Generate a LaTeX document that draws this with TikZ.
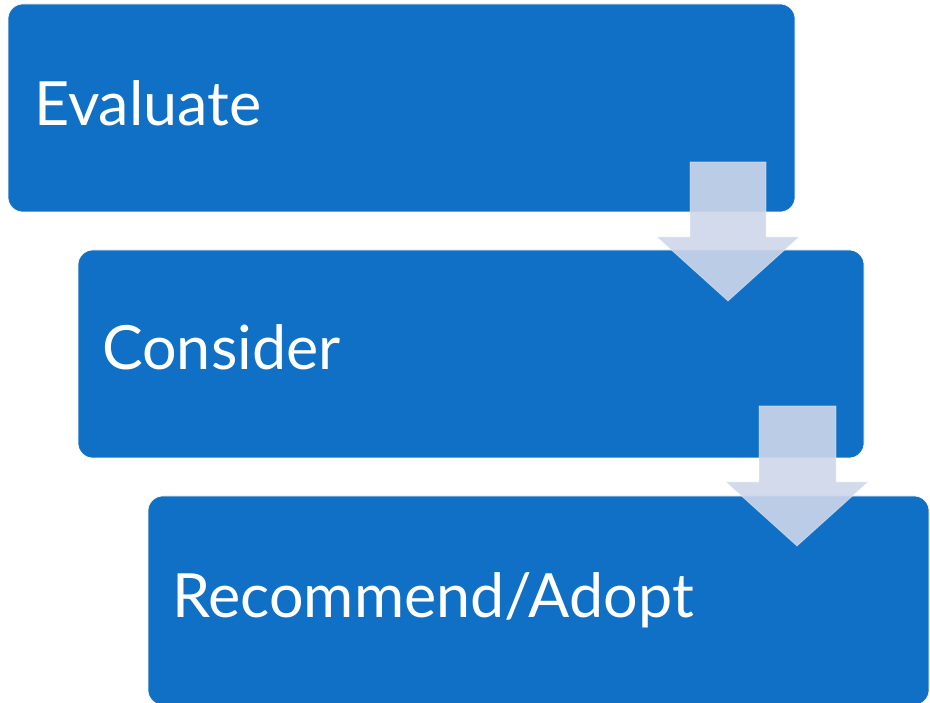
\documentclass[tikz,border=0pt]{standalone}
\usepackage{fontspec}
\setmainfont{Lato}
\definecolor{boxblue}{RGB}{16,112,198}
\definecolor{arrowfill}{RGB}{206,214,235}
\begin{document}
\begin{tikzpicture}[x=1pt,y=-1pt,
  stepbox/.style={fill=boxblue,draw=white,line width=0.6pt,rounded corners=15pt,inner sep=0pt},
  steplabel/.style={anchor=base west,text=white,inner sep=0pt,font=\fontsize{61}{70}\selectfont},
  blockarrow/.style={fill=arrowfill,fill opacity=0.9,draw=white,draw opacity=0.4,line width=0.8pt}]
\useasboundingbox (0,0) rectangle (930,703);
\fill[white] (0,0) rectangle (930,703);
\draw[stepbox] (8,4) rectangle (795,212);
\draw[stepbox] (78,250) rectangle (864,458);
\draw[stepbox] (148,496) rectangle (929,705);
\node[steplabel] (t1) at (34,126) {Evaluate};
\node[steplabel] (t2) at (102,370) {Consider};
\node[steplabel] (t3) at (172,617) {Recommend/Adopt};
\draw[blockarrow] (690,162) -- (766,162) -- (766,237) -- (799,237) -- (728,301) -- (657,237) -- (690,237) -- cycle;
\draw[blockarrow] (759,406) -- (836,406) -- (836,482) -- (868,482) -- (797,546) -- (726,482) -- (759,482) -- cycle;
\end{tikzpicture}
\end{document}
